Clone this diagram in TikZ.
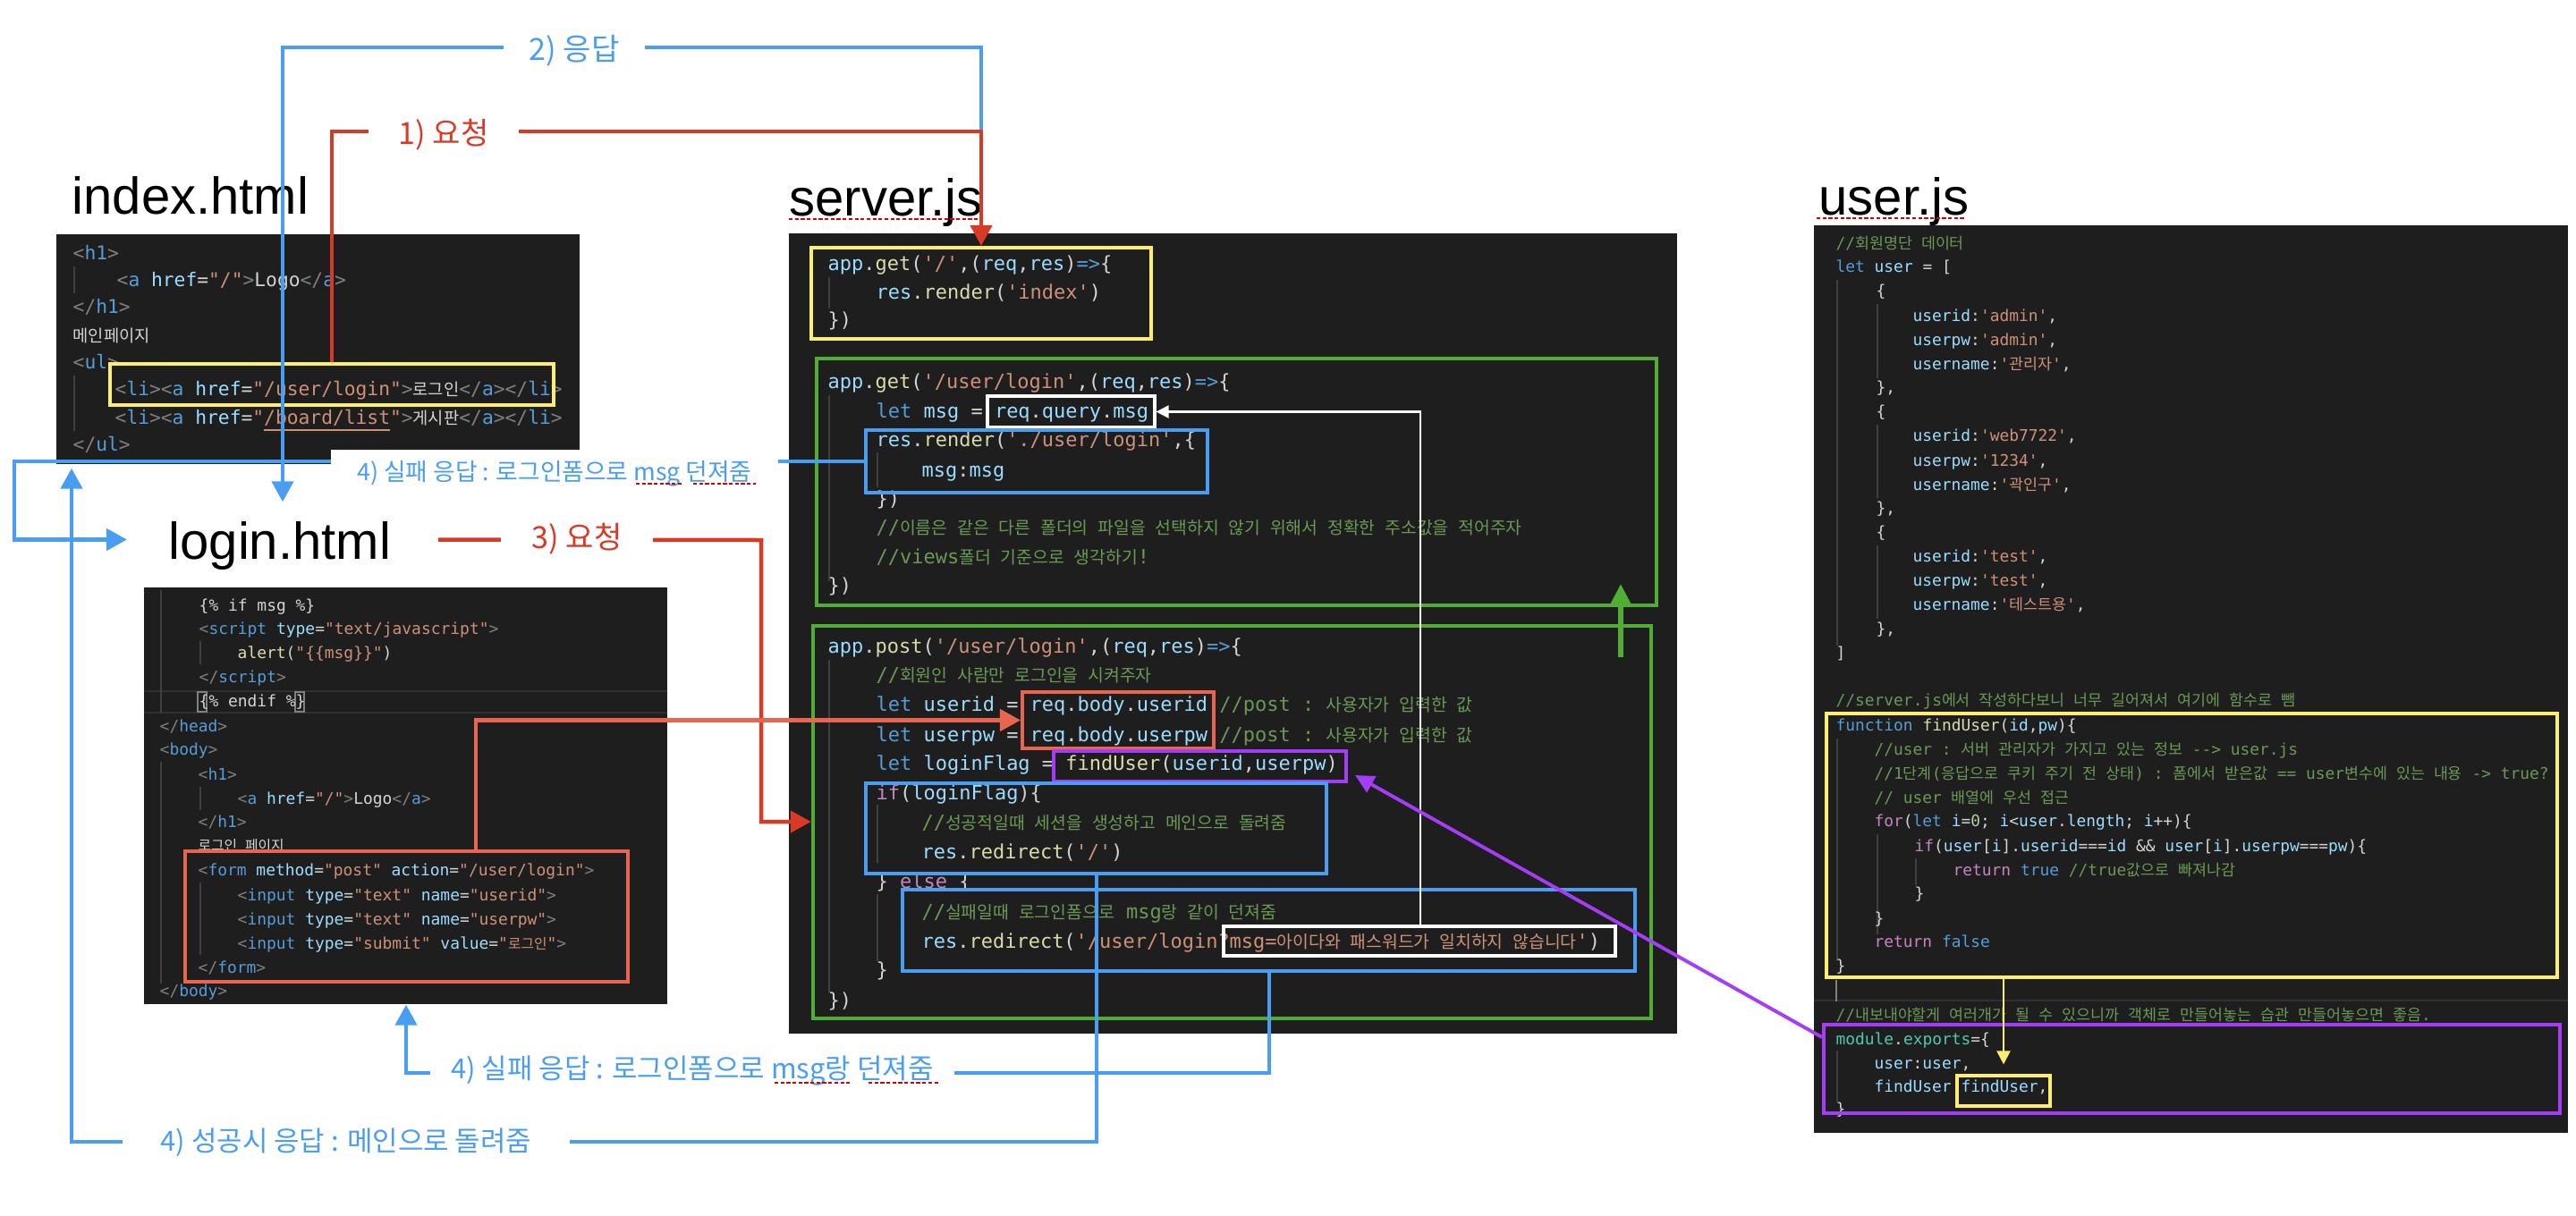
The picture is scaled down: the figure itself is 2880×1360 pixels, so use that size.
\documentclass[tikz,border=0pt]{standalone}
\usepackage{fontspec}
\setmainfont{Liberation Sans}
\setmonofont{DejaVu Sans Mono}
\newfontfamily\krfontA{Noto Sans CJK KR}[Scale=0.88,WordSpace=2.5]
\newfontfamily\krfontB{Noto Sans CJK KR}[Scale=0.97,WordSpace=2.6]
\newfontfamily\lblfont{Noto Sans CJK KR}
\usetikzlibrary{arrows.meta,fit}
\definecolor{codebg}{HTML}{1E1E1E}
\definecolor{codew}{HTML}{D4D4D4}
\definecolor{cgrey}{HTML}{808080}
\definecolor{cblue}{HTML}{569CD6}
\definecolor{clblue}{HTML}{9CDCFE}
\definecolor{corange}{HTML}{CE9178}
\definecolor{cyellow}{HTML}{DCDCAA}
\definecolor{cgreen}{HTML}{6A9955}
\definecolor{cpurple}{HTML}{C586C0}
\definecolor{cteal}{HTML}{4EC9B0}
\definecolor{cnum}{HTML}{B5CEA8}
\definecolor{cguide}{HTML}{404040}
\definecolor{chl}{HTML}{303030}
\definecolor{ablue}{HTML}{4A9EF2}
\definecolor{ared}{HTML}{D93A26}
\definecolor{aorange}{HTML}{E8664F}
\definecolor{agreen}{HTML}{52AE32}
\definecolor{apurple}{HTML}{A43DF5}
\definecolor{ayellow}{HTML}{FCEE6F}
\let\krfont\krfontA
\def\kr#1{{\krfont #1}}
\def\xg#1{\textcolor{cgrey}{#1}}
\def\xb#1{\textcolor{cblue}{#1}}
\def\xl#1{\textcolor{clblue}{#1}}
\def\xo#1{\textcolor{corange}{#1}}
\def\xy#1{\textcolor{cyellow}{#1}}
\def\xc#1{\textcolor{cgreen}{#1}}
\def\xp#1{\textcolor{cpurple}{#1}}
\def\xt#1{\textcolor{cteal}{#1}}
\def\xn#1{\textcolor{cnum}{#1}}
\tikzset{
  panel/.style={fill=codebg, draw=none, inner sep=0pt},
  cbase/.style={anchor=base west, inner sep=0pt, text=codew},
  cidx/.style={cbase, font=\ttfamily\fontsize{6.05pt}{7pt}\selectfont\let\krfont\krfontA},
  clog/.style={cbase, font=\ttfamily\fontsize{5.1pt}{6pt}\selectfont\let\krfont\krfontA},
  csrv/.style={cbase, font=\ttfamily\fontsize{6.25pt}{7pt}\selectfont\let\krfont\krfontA},
  cusr/.style={cbase, font=\ttfamily\fontsize{5.08pt}{6pt}\selectfont\let\krfont\krfontB},
  hdr/.style={anchor=base west, inner sep=0pt, font=\fontsize{16.5pt}{18pt}\selectfont, text=black, text height=0.43cm, text depth=0pt},
  hbox/.style={draw, inner sep=0pt, line width=1.14pt},
  guide/.style={draw=cguide, line width=0.4pt},
  conn/.style={line width=1.28pt},
  barr/.style={-{Triangle[length=0.23cm,width=0.24cm]}},
  smarr/.style={-{Triangle[length=0.14cm,width=0.14cm]}},
  lbl/.style={fill=white, inner sep=0pt, minimum height=0.40cm, font=\lblfont\fontsize{9.7pt}{11pt}\selectfont},
  lblb/.style={fill=white, inner sep=0pt, minimum height=0.40cm, text=ablue, font=\lblfont\fontsize{8.8pt}{10pt}\selectfont},
  spell/.style={draw=red!85!black, line width=0.6pt, dash pattern=on 1.2pt off 0.7pt},
}
\begin{document}
\begin{tikzpicture}[x=0.01cm,y=-0.01cm]
\useasboundingbox (0,0) rectangle (2880,1360);
\fill[white] (0,0) rectangle (2880,1360);

% ---------- headers ----------
\node[hdr] (hidx) at (80,239) {index.html};
\node[hdr] (hlogin) at (188,625) {login.html};
\node[hdr] (hsrv) at (882,241) {server.js};
\node[hdr] (husr) at (2033,240) {user.js};
\draw[spell] (882,245) -- (1095,245);
\draw[spell] (2031,244) -- (2198,244);

% ---------- panels ----------
\node[panel, fit={(63,262) (648,519)}] (pidx) {};
\node[panel, fit={(161,657) (746,1123)}] (plog) {};
\node[panel, fit={(882,261) (1875,1156)}] (psrv) {};
\node[panel, fit={(2028,252) (2871,1267)}] (pusr) {};

% current line highlights
\draw[draw=chl, line width=0.8pt] (161,773) -- (746,773) (161,797) -- (746,797);
\draw[draw=cgrey, line width=0.4pt] (221,774) rectangle (231,796) (330,774) rectangle (340,796);
\draw[draw=chl, line width=0.8pt] (2028,1119) -- (2871,1119);
\draw[draw=cgrey, line width=0.8pt] (2053,1096) -- (2053,1120);

% indent guides
\draw[guide] (83,298) -- (83,328) (83,420) -- (83,482);
\draw[guide] (180,660) -- (180,797) (180,852) -- (180,1100) (224,717) -- (224,743) (224,880) -- (224,906) (224,987) -- (224,1068);
\draw[guide] (927,310) -- (927,345) (927,442) -- (927,650) (927,738) -- (927,1110) (981,506) -- (981,545) (981,900) -- (981,965) (981,1000) -- (981,1075);
\draw[guide] (2054,313) -- (2054,722) (2099,340) -- (2099,423) (2099,475) -- (2099,557) (2099,610) -- (2099,692) (2054,826) -- (2054,1075) (2099,933) -- (2099,1045) (2142,960) -- (2142,990) (2054,1175) -- (2054,1232);

% ---------- index.html code ----------
\node[cidx] (i1) at (81,290) {\xg{<}\xb{h1}\xg{>}};
\node[cidx] (i2) at (130,320) {\xg{<}\xb{a} \xl{href}=\xo{"/"}\xg{>}Logo\xg{</}\xb{a}\xg{>}};
\node[cidx] (i3) at (81,350) {\xg{</}\xb{h1}\xg{>}};
\node[cidx] (i4) at (81,382) {\kr{메인페이지}};
\node[cidx] (i5) at (81,412) {\xg{<}\xb{ul}\xg{>}};
\node[cidx] (i6) at (128,442) {\xg{<}\xb{li}\xg{><}\xb{a} \xl{href}=\xo{"\underline{/user/login}"}\xg{>}\kr{로그인}\xg{</}\xb{a}\xg{></}\xb{li}\xg{>}};
\node[cidx] (i7) at (128,474) {\xg{<}\xb{li}\xg{><}\xb{a} \xl{href}=\xo{"\underline{/board/list}"}\xg{>}\kr{게시판}\xg{</}\xb{a}\xg{></}\xb{li}\xg{>}};
\node[cidx] (i8) at (81,504) {\xg{</}\xb{ul}\xg{>}};

% ---------- login.html code ----------
\node[clog] (l1) at (222,683) {\{\% if msg \%\}};
\node[clog] (l2) at (222,709) {\xg{<}\xb{script} \xl{type}=\xo{"text/javascript"}\xg{>}};
\node[clog] (l3) at (265,736) {\xy{alert}(\xo{"\{\{msg\}\}"})};
\node[clog] (l4) at (222,763) {\xg{</}\xb{script}\xg{>}};
\node[clog] (l5) at (222,790) {\{\% endif \%\}};
\node[clog] (l6) at (178,818) {\xg{</}\xb{head}\xg{>}};
\node[clog] (l7) at (178,844) {\xg{<}\xb{body}\xg{>}};
\node[clog] (l8) at (221,872) {\xg{<}\xb{h1}\xg{>}};
\node[clog] (l9) at (265,899) {\xg{<}\xb{a} \xl{href}=\xo{"/"}\xg{>}Logo\xg{</}\xb{a}\xg{>}};
\node[clog] (l10) at (221,925) {\xg{</}\xb{h1}\xg{>}};
\node[clog] (l11) at (221,951) {\kr{로그인 페이지}};
\node[clog] (l12) at (221,979) {\xg{<}\xb{form} \xl{method}=\xo{"post"} \xl{action}=\xo{"/user/login"}\xg{>}};
\node[clog] (l13) at (265,1007) {\xg{<}\xb{input} \xl{type}=\xo{"text"} \xl{name}=\xo{"userid"}\xg{>}};
\node[clog] (l14) at (265,1034) {\xg{<}\xb{input} \xl{type}=\xo{"text"} \xl{name}=\xo{"userpw"}\xg{>}};
\node[clog] (l15) at (265,1061) {\xg{<}\xb{input} \xl{type}=\xo{"submit"} \xl{value}=\xo{"\kr{로그인}"}\xg{>}};
\node[clog] (l16) at (221,1088) {\xg{</}\xb{form}\xg{>}};
\node[clog] (l17) at (178,1114) {\xg{</}\xb{body}\xg{>}};

% ---------- server.js code ----------
\node[csrv] (s1) at (925,302) {\xl{app}.\xy{get}(\xo{'/'},(\xl{req},\xl{res})\xb{=>}\{};
\node[csrv] (s2) at (979,334) {\xl{res}.\xy{render}(\xo{'index'})};
\node[csrv] (s3) at (925,365) {\})};
\node[csrv] (s4) at (925,434) {\xl{app}.\xy{get}(\xo{'/user/login'},(\xl{req},\xl{res})\xb{=>}\{};
\node[csrv] (s5) at (979,467) {\xb{let} \xl{msg} = \xl{req}.\xl{query}.\xl{msg}};
\node[csrv] (s6) at (979,499) {\xl{res}.\xy{render}(\xo{'./user/login'},\{};
\node[csrv] (s7) at (1030,533) {\xl{msg}:\xl{msg}};
\node[csrv] (s8) at (979,565) {\})};
\node[csrv] (s9) at (979,597) {\xc{//\kr{이름은 같은 다른 폴더의 파일을 선택하지 않기 위해서 정확한 주소값을 적어주자}}};
\node[csrv] (s10) at (979,630) {\xc{//views\kr{폴더 기준으로 생각하기}!}};
\node[csrv] (s11) at (925,662) {\})};
\node[csrv] (s12) at (925,730) {\xl{app}.\xy{post}(\xo{'/user/login'},(\xl{req},\xl{res})\xb{=>}\{};
\node[csrv] (s13) at (979,762) {\xc{//\kr{회원인 사람만 로그인을 시켜주자}}};
\node[csrv] (s14) at (979,795) {\xb{let} \xl{userid} = \xl{req}.\xl{body}.\xl{userid} \xc{//post : \kr{사용자가 입력한 값}}};
\node[csrv] (s15) at (979,829) {\xb{let} \xl{userpw} = \xl{req}.\xl{body}.\xl{userpw} \xc{//post : \kr{사용자가 입력한 값}}};
\node[csrv] (s16) at (979,861) {\xb{let} \xl{loginFlag} = \xy{findUser}(\xl{userid},\xl{userpw})};
\node[csrv] (s17) at (979,894) {\xp{if}(\xl{loginFlag})\{};
\node[csrv] (s18) at (1030,927) {\xc{//\kr{성공적일때 세션을 생성하고 메인으로 돌려줌}}};
\node[csrv] (s19) at (1030,960) {\xl{res}.\xy{redirect}(\xo{'/'})};
\node[csrv] (s20) at (979,993) {\} \xp{else} \{};
\node[csrv] (s21) at (1030,1027) {\xc{//\kr{실패일때 로그인폼으로} msg\kr{랑 같이 던져줌}}};
\node[csrv] (s22) at (1030,1060) {\xl{res}.\xy{redirect}(\xo{'/user/login?msg=\kr{아이다와 패스워드가 일치하지 않습니다}'})};
\node[csrv] (s23) at (979,1092) {\}};
\node[csrv] (s24) at (925,1126) {\})};

% ---------- user.js code ----------
\node[cusr] (u1) at (2052,278) {\xc{//\kr{회원명단 데이터}}};
\node[cusr] (u2) at (2052,304) {\xb{let} \xl{user} = [};
\node[cusr] (u3) at (2097,331) {\{};
\node[cusr] (u4) at (2138,359) {\xl{userid}:\xo{'admin'},};
\node[cusr] (u5) at (2138,386) {\xl{userpw}:\xo{'admin'},};
\node[cusr] (u6) at (2138,413) {\xl{username}:\xo{'\kr{관리자}'},};
\node[cusr] (u7) at (2097,439) {\},};
\node[cusr] (u8) at (2097,466) {\{};
\node[cusr] (u9) at (2138,493) {\xl{userid}:\xo{'web7722'},};
\node[cusr] (u10) at (2138,521) {\xl{userpw}:\xo{'1234'},};
\node[cusr] (u11) at (2138,548) {\xl{username}:\xo{'\kr{곽인구}'},};
\node[cusr] (u12) at (2097,574) {\},};
\node[cusr] (u13) at (2097,601) {\{};
\node[cusr] (u14) at (2138,628) {\xl{userid}:\xo{'test'},};
\node[cusr] (u15) at (2138,655) {\xl{userpw}:\xo{'test'},};
\node[cusr] (u16) at (2138,682) {\xl{username}:\xo{'\kr{테스트용}'},};
\node[cusr] (u17) at (2097,709) {\},};
\node[cusr] (u18) at (2052,736) {]};
\node[cusr] (u19) at (2052,789) {\xc{//server.js\kr{에서 작성하다보니 너무 길어져서 여기에 함수로 뺌}}};
\node[cusr] (u20) at (2052,817) {\xb{function} \xy{findUser}(\xl{id},\xl{pw})\{};
\node[cusr] (u21) at (2095,844) {\xc{//user : \kr{서버 관리자가 가지고 있는 정보} --> user.js}};
\node[cusr] (u22) at (2095,871) {\xc{//1\kr{단계}(\kr{응답으로 쿠키 주기 전 상태}) : \kr{폼에서 받은값} == user\kr{변수에 있는 내용} -> true?}};
\node[cusr] (u23) at (2095,898) {\xc{// user \kr{배열에 우선 접근}}};
\node[cusr] (u24) at (2095,924) {\xp{for}(\xb{let} \xl{i}=\xn{0}; \xl{i}<\xl{user}.\xl{length}; \xl{i}++)\{};
\node[cusr] (u25) at (2140,952) {\xp{if}(\xl{user}[\xl{i}].\xl{userid}===\xl{id} \&\& \xl{user}[\xl{i}].\xl{userpw}===\xl{pw})\{};
\node[cusr] (u26) at (2183,979) {\xp{return} \xb{true} \xc{//true\kr{값으로 빠져나감}}};
\node[cusr] (u27) at (2140,1005) {\}};
\node[cusr] (u28) at (2095,1033) {\}};
\node[cusr] (u29) at (2095,1059) {\xp{return} \xb{false}};
\node[cusr] (u30) at (2052,1086) {\}};
\node[cusr] (u31) at (2052,1141) {\xc{//\kr{내보내야할게 여러개가 될 수 있으니까 객체로 만들어놓는 습관 만들어놓으면 좋음}.}};
\node[cusr] (u32) at (2052,1168) {\xt{module}.\xt{exports}=\{};
\node[cusr] (u33) at (2095,1195) {\xl{user}:\xl{user},};
\node[cusr] (u34) at (2095,1221) {\xl{findUser}:\xl{findUser},};
\node[cusr] (u35) at (2052,1246) {\}};

% ---------- highlight boxes ----------
\node[hbox, draw=ayellow, fit={(123,407) (619,453)}] (iyel) {};
\node[hbox, draw=aorange, line width=1.3pt, fit={(207,952) (702,1098)}] (fbox) {};
\node[hbox, draw=ayellow, fit={(907,277) (1287,379)}] (syel) {};
\node[hbox, draw=agreen, line width=1.25pt, fit={(913,401) (1852,677)}] (sg1) {};
\node[hbox, draw=agreen, line width=1.25pt, fit={(909,700) (1846,1139)}] (sg2) {};
\node[hbox, draw=white, line width=0.9pt, fit={(1104,443) (1291,478)}] (swq) {};
\node[hbox, draw=ablue, fit={(968,481) (1350,551)}] (sbren) {};
\node[hbox, draw=aorange, fit={(1143,774) (1357,837)}] (sorg) {};
\node[hbox, draw=apurple, fit={(1178,840) (1505,874)}] (spur) {};
\node[hbox, draw=ablue, fit={(968,876) (1483,977)}] (sif) {};
\node[hbox, draw=ablue, fit={(1009,995) (1828,1086)}] (selse) {};
\node[hbox, draw=white, line width=0.9pt, fit={(1368,1036) (1806,1069)}] (swm) {};
\node[hbox, draw=ayellow, fit={(2042,798) (2859,1093)}] (uyel) {};
\node[hbox, draw=apurple, fit={(2039,1146) (2862,1245)}] (umod) {};
\node[hbox, draw=ayellow, line width=0.9pt, fit={(2188,1203) (2292,1237)}] (ufy) {};

% ---------- connectors ----------
\coordinate (jct) at (syel.north |- 0,147);
\coordinate (b2b) at (316,53);
% 2) response (blue)
\draw[conn, ablue, barr, shorten >=0.2cm] (jct) -- (jct |- b2b) -- (b2b) -- (b2b |- hlogin.north);
% 1) request (red)
\draw[conn, ared, barr] (iyel.north) -- (iyel.north |- jct) -- (jct) -- (syel.north);
% 3) request (red)
\coordinate (r3a) at (851,604);
\coordinate (r3b) at (851,919);
\draw[conn, ared, barr, shorten <=0.52cm] (hlogin.east) -- (r3a) -- (r3b) -- (sg2.west |- r3b);
% form -> req.body (orange)
\coordinate (o1) at (sorg.west -| 532,0);
\draw[conn, aorange, barr] (fbox.north -| o1) -- (o1) -- (sorg.west);
% msg -> req.query.msg (white)
\coordinate (w1) at (swq.east -| 1588,0);
\draw[line width=0.6pt, white, smarr] (swm.north -| w1) -- (w1) -- (swq.east);
% module.exports -> findUser (purple)
\coordinate (pst) at (umod.west |- 0,1160);
\coordinate (ptip) at (1515,867);
\draw[line width=1.1pt, apurple, -{Triangle[length=0.21cm,width=0.2cm]}] (pst) -- (ptip);
% function -> export (yellow)
\draw[line width=0.6pt, ayellow, -{Triangle[length=0.15cm,width=0.15cm]}, shorten >=0.11cm] (uyel.south -| ufy.north) -- (ufy.north);
% green
\coordinate (g1) at (1812,735);
\coordinate (g2) at (1812,653);
\draw[line width=1.6pt, agreen, -{Triangle[length=0.22cm,width=0.21cm]}] (g1) -- (g2);
% 4) fail (top)
\draw[conn, ablue, barr, shorten >=0.46cm] (sbren.west) -- (sbren.west -| 16,0) -- (hlogin.west -| 16,0) -- (hlogin.west);
% 4) success
\coordinate (sc1) at (1226,1277);
\coordinate (sc2) at (80,1277);
\draw[conn, ablue, barr, shorten >=0.04cm] (sif.south -| sc1) -- (sc1) -- (sc2) -- (pidx.south -| sc2);
% 4) fail (bottom)
\coordinate (fb1) at (1419,1200);
\coordinate (fb2) at (454,1200);
\draw[conn, ablue, barr] (selse.south -| fb1) -- (fb1) -- (fb2) -- (plog.south -| fb2);

% ---------- labels ----------
\node[lbl, text=ared, minimum width=1.68cm] (lb1) at (496,151) {1) 요청};
\node[lbl, text=ablue, minimum width=1.57cm] (lb2) at (642,57) {2) 응답};
\node[lbl, text=ared, minimum width=1.69cm] (lb3) at (645,603) {3) 요청};
\node[lblb, minimum width=4.99cm, minimum height=0.54cm, font=\lblfont\fontsize{7.6pt}{9pt}\selectfont] (lb4a) at (620,530) {4) 실패 응답 : 로그인폼으로 msg 던져줌};
\node[lblb, minimum width=5.85cm] (lb4b) at (774,1198) {4) 실패 응답 : 로그인폼으로 msg랑 던져줌};
\node[lblb, minimum width=4.99cm] (lb4c) at (387,1278) {4) 성공시 응답 : 메인으로 돌려줌};
\draw[spell] (711,541) -- (762,541) (775,541) -- (845,541);
\draw[spell] (866,1211) -- (951,1211) (971,1211) -- (1049,1211);
\end{tikzpicture}
\end{document}
